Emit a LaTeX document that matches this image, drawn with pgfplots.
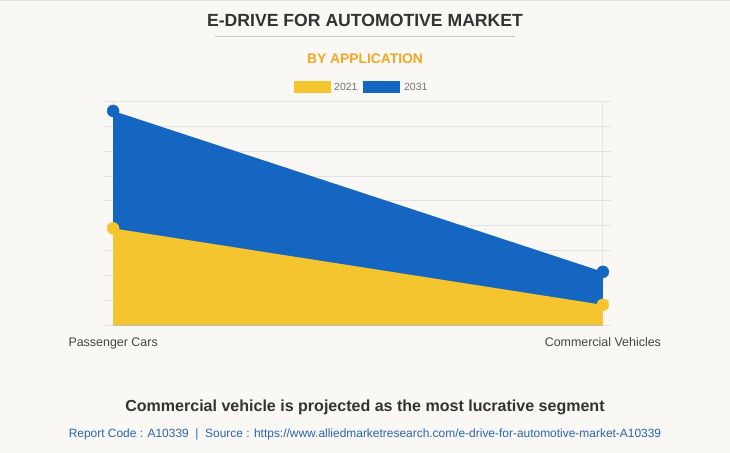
\documentclass[border=0pt]{standalone}
\usepackage{pgfplots}
\pgfplotsset{compat=1.18}
\usepackage{fontspec}
\setmainfont{Liberation Sans}
\definecolor{bg}{HTML}{F9F8F4}
\definecolor{ylw}{HTML}{F4C52F}
\definecolor{blu}{HTML}{1466C0}
\definecolor{ttl}{HTML}{333333}
\definecolor{org}{HTML}{F5A623}
\definecolor{src}{HTML}{2B62B0}
\definecolor{grd}{HTML}{E2E2E2}
\definecolor{lbl}{HTML}{444444}
\begin{document}
\begin{tikzpicture}
\fill[bg] (0bp,0bp) rectangle (730bp,453bp);
\draw[grd] (0bp,452.5bp) -- (730bp,452.5bp);
\node[text=ttl,font=\fontsize{17.7}{20}\selectfont\bfseries] at (365bp,432.5bp) {E-DRIVE FOR AUTOMOTIVE MARKET};
\draw[black!22,line width=1bp] (215bp,416bp) -- (515bp,416bp);
\node[text=org,font=\fontsize{13.9}{15}\selectfont\bfseries] at (365bp,394bp) {BY APPLICATION};
\fill[ylw] (294bp,360bp) rectangle (331bp,372bp);
\node[anchor=west,text=black!55,font=\fontsize{10.5}{12}\selectfont,inner sep=0] at (334bp,366.5bp) {2021};
\fill[blu] (363bp,360bp) rectangle (400bp,372bp);
\node[anchor=west,text=black!55,font=\fontsize{10.5}{12}\selectfont,inner sep=0] at (404bp,366.5bp) {2031};
\begin{axis}[
  at={(113bp,127bp)}, anchor=south west,
  scale only axis, width=490bp, height=225bp,
  xmin=0, xmax=1, ymin=0, ymax=9,
  xtick={0,1}, xticklabels={Passenger Cars,Commercial Vehicles},
  ytick={0,1,...,9}, yticklabels={},
  axis line style={draw=none},
  ymajorgrids, xmajorgrids,
  grid style={grd, line width=0.8bp},
  tick align=outside,
  major tick length=8bp,
  xtick style={draw=none},
  ytick style={grd, line width=0.8bp},
  x tick label style={font=\fontsize{12.5}{14}\selectfont, text=lbl},
  xticklabel style={yshift=0bp},
  clip=false,
]
\addplot[fill=blu, draw=none] coordinates {(0,8.6) (1,2.16)} \closedcycle;
\addplot[fill=ylw, draw=none] coordinates {(0,3.9) (1,0.84)} \closedcycle;
\draw[black!25, line width=0.8bp] (axis cs:0,0) -- (axis cs:1,0);
\addplot[only marks, mark=*, mark size=6bp, blu, mark options={draw=blu,fill=blu}] coordinates {(0,8.6) (1,2.16)};
\addplot[only marks, mark=*, mark size=6bp, ylw, mark options={draw=ylw,fill=ylw}] coordinates {(0,3.9) (1,0.84)};
\end{axis}
\node[text=ttl,font=\fontsize{16.1}{18}\selectfont\bfseries] at (365bp,45bp) {Commercial vehicle is projected as the most lucrative segment};
\node[text=src,font=\fontsize{12}{14}\selectfont] at (365bp,18bp) {Report Code : A10339~~|~~Source : https://www.alliedmarketresearch.com/e-drive-for-automotive-market-A10339};
\end{tikzpicture}
\end{document}
